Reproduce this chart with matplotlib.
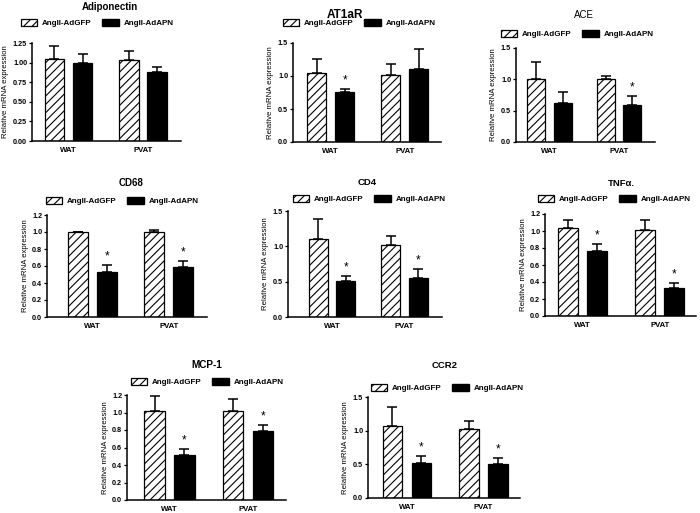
import matplotlib
matplotlib.use("Agg")
import matplotlib.pyplot as plt
from matplotlib.patches import Patch
import numpy as np

plt.rcParams['font.family'] = ['Liberation Sans', 'DejaVu Sans']
plt.rcParams['font.weight'] = 'bold'
plt.rcParams['hatch.linewidth'] = 0.8

# data (mean and upper error, [WAT, PVAT])
genes = ['Adiponectin', 'AT1aR', 'ACE', 'CD68', 'CD4', 'TNF\u03b1.', 'MCP-1', 'CCR2']
groups = ['WAT', 'PVAT']
series = ['AngII-AdGFP', 'AngII-AdAPN']
gfp_mean = [[1.04, 1.03], [1.05, 1.015], [1.01, 1.00], [1.00, 1.00],
            [1.11, 1.02], [1.03, 1.01], [1.02, 1.02], [1.07, 1.02]]
gfp_sem = [[0.17, 0.12], [0.21, 0.165], [0.26, 0.06], [0.005, 0.02],
           [0.28, 0.13], [0.10, 0.12], [0.17, 0.13], [0.285, 0.13]]
apn_mean = [[1.00, 0.88], [0.75, 1.10], [0.62, 0.585], [0.53, 0.59],
            [0.505, 0.55], [0.77, 0.325], [0.52, 0.79], [0.52, 0.50]]
apn_sem = [[0.11, 0.065], [0.05, 0.31], [0.17, 0.155], [0.08, 0.07],
           [0.08, 0.13], [0.08, 0.065], [0.06, 0.07], [0.10, 0.09]]
apn_star = [[False, False], [True, False], [False, True], [True, True],
            [True, True], [True, True], [True, True], [True, True]]
ymax = [1.25, 1.5, 1.5, 1.2, 1.5, 1.2, 1.2, 1.5]
ystep = [0.25, 0.5, 0.5, 0.2, 0.5, 0.2, 0.2, 0.5]
ydec = [2, 1, 1, 1, 1, 1, 1, 1]

# layout in pixels: axes box (x0, x1, ytop, ybottom), x limits, title and legend centres
W, H = 700, 513
boxes = [(32, 181, 43, 141), (293, 441, 43, 142), (516, 655, 48, 142),
         (47, 207, 215, 317), (288, 442, 211, 317), (545, 696, 214, 316),
         (127, 286, 395, 500), (368, 520, 397, 498)]
xlims = [(-0.49, 1.51), (-0.51, 1.49), (-0.48, 1.52), (-0.59, 1.50),
         (-0.61, 1.52), (-0.49, 1.47), (-0.54, 1.48), (-0.51, 1.48)]
title_pos = [(110, 7), (345, 15), (584, 15), (131, 183), (367, 183), (621, 184), (207, 365), (445, 365)]
title_size = [7, 8.5, 7, 7, 6.8, 6.8, 7.2, 6.8]
title_weight = ['bold', 'bold', 'normal', 'bold', 'bold', 'bold', 'bold', 'bold']
legend_pos = [(97, 23), (359, 23), (577, 34), (122, 201), (369, 199), (614, 199), (207, 382), (447, 388)]

fig = plt.figure(figsize=(7, 5.13), dpi=100)

off = 0.19
width = 0.26
for i, gene in enumerate(genes):
    x0, x1, yt, yb = boxes[i]
    ax = fig.add_axes([x0 / W, 1 - yb / H, (x1 - x0) / W, (yb - yt) / H])
    x = np.arange(len(groups))
    ax.bar(x - off, gfp_mean[i], width, color='white', edgecolor='black',
           hatch='////', linewidth=0.9, zorder=2)
    ax.bar(x + off, apn_mean[i], width, color='black', edgecolor='black',
           linewidth=0.9, zorder=2)
    ax.errorbar(x - off, gfp_mean[i], yerr=[[0, 0], gfp_sem[i]], fmt='none',
                ecolor='black', elinewidth=1.1, capsize=3.4, capthick=1.1, zorder=1)
    ax.errorbar(x + off, apn_mean[i], yerr=[[0, 0], apn_sem[i]], fmt='none',
                ecolor='black', elinewidth=1.1, capsize=3.4, capthick=1.1, zorder=1)
    for j in range(len(groups)):
        if apn_star[i][j]:
            ax.text(x[j] + off, apn_mean[i][j] + apn_sem[i][j] + ymax[i] * 0.025, '*',
                    ha='center', va='bottom', fontsize=8.5, fontweight='normal')

    ax.set_xlim(*xlims[i])
    ax.set_ylim(0, ymax[i])
    ticks = np.arange(0, ymax[i] + 1e-6, ystep[i])
    ax.set_yticks(ticks)
    ax.set_yticklabels([f'{t:.{ydec[i]}f}' for t in ticks], fontsize=5.2)
    ax.set_xticks(x)
    ax.set_xticklabels(groups, fontsize=5.6)
    ax.tick_params(axis='x', length=0, pad=4)
    ax.tick_params(axis='y', length=2.5, width=0.9, pad=1)
    ax.set_ylabel('Relative mRNA expression', fontsize=5.6, labelpad=2.5)
    for s in ['top', 'right']:
        ax.spines[s].set_visible(False)
    for s in ['left', 'bottom']:
        ax.spines[s].set_linewidth(1.1)

    tx, ty = title_pos[i]
    fig.text(tx / W, 1 - ty / H, gene, ha='center', va='center',
             fontsize=title_size[i], fontweight=title_weight[i])

    handles = [Patch(facecolor='white', edgecolor='black', hatch='////', linewidth=0.9),
               Patch(facecolor='black', edgecolor='black')]
    lx, ly = legend_pos[i]
    fig.legend(handles, series, loc='center', bbox_to_anchor=(lx / W, 1 - ly / H),
               ncol=2, frameon=False, fontsize=5.8, handlelength=2.0, handleheight=0.9,
               columnspacing=1.4, handletextpad=0.6, borderpad=0, borderaxespad=0)

fig.savefig('out.png', dpi=100, facecolor='white')
